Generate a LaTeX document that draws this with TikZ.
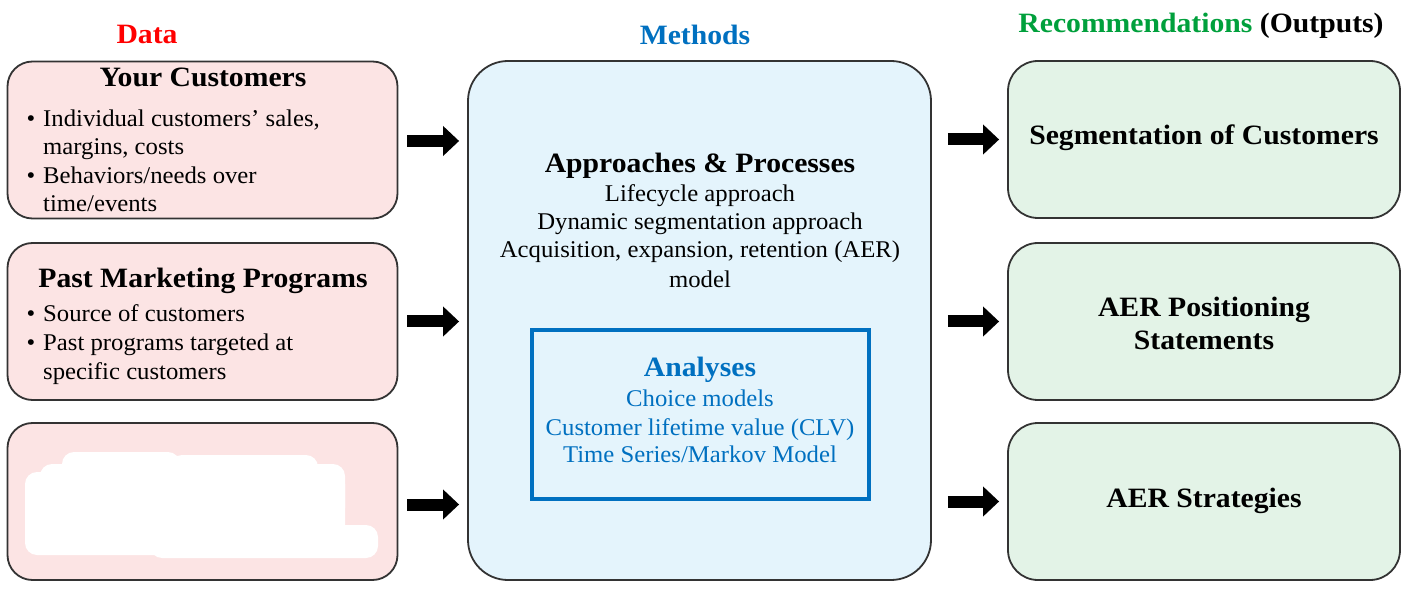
\documentclass[tikz,border=0pt]{standalone}
\usepackage{fontspec}
\setmainfont{Liberation Serif}[UprightFeatures={FakeStretch=1.03},BoldFeatures={FakeStretch=1.06}]
\usetikzlibrary{arrows.meta}
\definecolor{pinkfill}{HTML}{FCE4E4}
\definecolor{bluefill}{HTML}{E4F4FC}
\definecolor{greenfill}{HTML}{E3F3E7}
\definecolor{edgegray}{HTML}{333333}
\definecolor{methblue}{HTML}{0070C0}
\definecolor{datared}{HTML}{FF0000}
\definecolor{recgreen}{HTML}{00A03C}
\newcommand{\bodyfont}{\fontsize{24}{28}\selectfont}
\newcommand{\headfont}{\fontsize{28}{32}\selectfont\bfseries}
\begin{document}
\begin{tikzpicture}[x=1pt,y=-1pt,
  box/.style={draw=edgegray,line width=1.8pt,inner sep=0pt},
  databox/.style={box,fill=pinkfill,rounded corners=25pt,minimum width=390pt,minimum height=157pt},
  methbox/.style={box,fill=bluefill,rounded corners=40pt,minimum width=463pt,minimum height=519pt},
  recbox/.style={box,fill=greenfill,rounded corners=30pt,minimum width=392pt,minimum height=157pt},
  anbox/.style={draw=methblue,line width=4pt,inner sep=0pt,minimum width=337pt,minimum height=168pt},
  txt/.style={inner sep=0pt,anchor=base},
  ltxt/.style={inner sep=0pt,anchor=base west,font=\bodyfont},
  btxt/.style={txt,font=\bodyfont},
  htxt/.style={txt,font=\headfont},
  bul/.style={inner sep=0pt,anchor=base,font=\bodyfont},
  bigarrow/.style={line width=12pt,-{Triangle[length=16pt,width=29pt]}},
  blob/.style={fill=white,rounded corners=12pt}
]
\useasboundingbox[fill=white] (0,0) rectangle (1413,593);

% headers
\node[htxt,text=datared] (hdata) at (147,44) {Data};
\node[htxt,text=methblue] (hmeth) at (695,45) {Methods};
\node[htxt] (hrec) at (1201,33) {\textcolor{recgreen}{Recommendations} (Outputs)};

% data boxes
\node[databox] (d1) at (202.5,140) {};
\node[databox] (d2) at (202.5,321.5) {};
\node[databox] (d3) at (202.5,501.5) {};

\node[htxt] (d1t) at (203,87) {Your Customers};
\node[bul] (d1b1) at (31,127) {\textbullet};
\node[ltxt] (d1l1) at (43,127) {Individual customers’ sales,};
\node[ltxt] (d1l2) at (43,155) {margins, costs};
\node[bul] (d1b2) at (31,184) {\textbullet};
\node[ltxt] (d1l3) at (43,184) {Behaviors/needs over};
\node[ltxt] (d1l4) at (43,212) {time/events};

\node[htxt] (d2t) at (203,288) {Past Marketing Programs};
\node[bul] (d2b1) at (31,322) {\textbullet};
\node[ltxt] (d2l1) at (43,322) {Source of customers};
\node[bul] (d2b2) at (31,351) {\textbullet};
\node[ltxt] (d2l2) at (43,351) {Past programs targeted at};
\node[ltxt] (d2l3) at (43,379) {specific customers};

% white scribble over third box
\fill[blob] (25,472) rectangle (345,555);
\fill[blob] (62,452) rectangle (180,500);
\fill[blob] (170,455) rectangle (318,500);
\fill[blob] (40,464) rectangle (345,520);
\fill[blob] (150,525) rectangle (378,558);
\fill[blob] (300,470) rectangle (340,490);

% methods box
\node[methbox] (meth) at (699.5,320.5) {};
\node[htxt] (mt) at (700,173) {Approaches \& Processes};
\node[btxt] (m1) at (700,202) {Lifecycle approach};
\node[btxt] (m2) at (700,230) {Dynamic segmentation approach};
\node[btxt] (m3) at (700,258) {Acquisition, expansion, retention (AER)};
\node[btxt] (m4) at (700,288) {model};

\node[anbox] (an) at (700,414.5) {};
\node[htxt,text=methblue] (at) at (700,376) {Analyses};
\node[btxt,text=methblue] (a1) at (700,406) {Choice models};
\node[btxt,text=methblue] (a2) at (700,435) {Customer lifetime value (CLV)};
\node[btxt,text=methblue] (a3) at (700,462) {Time Series/Markov Model};

% recommendation boxes
\node[recbox] (r1) at (1204,139.5) {};
\node[recbox] (r2) at (1204,321.5) {};
\node[recbox] (r3) at (1204,501.5) {};
\node[htxt] (r1t) at (1204,145) {Segmentation of Customers};
\node[htxt] (r2t) at (1204,317) {AER Positioning};
\node[htxt] (r2u) at (1204,349) {Statements};
\node[htxt] (r3t) at (1204,507) {AER Strategies};

% arrows
\draw[bigarrow] ([xshift=9pt,yshift=-1pt]d1.east) -- ([xshift=-8pt,yshift=-1pt]d1.east -| meth.west);
\draw[bigarrow] ([xshift=9pt]d2.east) -- ([xshift=-8pt]d2.east -| meth.west);
\draw[bigarrow] ([xshift=9pt,yshift=-3pt]d3.east) -- ([xshift=-8pt,yshift=-3pt]d3.east -| meth.west);
\draw[bigarrow] ([xshift=16pt]meth.east |- r1.west) -- ([xshift=-8pt]r1.west);
\draw[bigarrow] ([xshift=16pt]meth.east |- r2.west) -- ([xshift=-8pt]r2.west);
\draw[bigarrow] ([xshift=16pt]meth.east |- r3.west) -- ([xshift=-8pt]r3.west);
\end{tikzpicture}
\end{document}
